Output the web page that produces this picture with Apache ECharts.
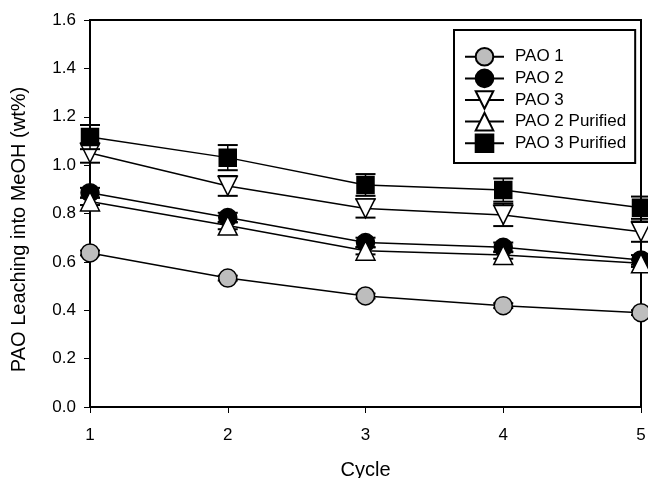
<!DOCTYPE html>
<html>
<head>
<meta charset="utf-8">
<script src="https://cdn.jsdelivr.net/npm/echarts@6/dist/echarts.min.js"></script>
<style>
  html, body { margin: 0; padding: 0; background: #fff; }
  #main { width: 648px; height: 478px; }
</style>
</head>
<body>
<div id="main"></div>
<script>
// cycle numbers (x)
var cycles = [1, 2, 3, 4, 5];
// leaching values, wt%
var pao1 = [0.637, 0.533, 0.459, 0.419, 0.390];
var pao2 = [0.886, 0.783, 0.680, 0.660, 0.608];
var pao3 = [1.050, 0.914, 0.821, 0.794, 0.725];
var pao2Pur = [0.850, 0.750, 0.646, 0.628, 0.594];
var pao3Pur = [1.116, 1.031, 0.918, 0.897, 0.824];
// error bars (+/-)
var pao1Err = [0.01, 0.01, 0.01, 0.01, 0.01];
var pao2Err = [0.02, 0.02, 0.02, 0.02, 0.02];
var pao3Err = [0.040, 0.041, 0.038, 0.046, 0.042];
var pao2PurErr = [0.015, 0.015, 0.015, 0.015, 0.015];
var pao3PurErr = [0.050, 0.052, 0.045, 0.048, 0.046];

var names = ['PAO 1', 'PAO 2', 'PAO 3', 'PAO 2 Purified', 'PAO 3 Purified'];
var values = [pao1, pao2, pao3, pao2Pur, pao3Pur];
var errs = [pao1Err, pao2Err, pao3Err, pao2PurErr, pao3PurErr];
var symbols = ['circle', 'circle', 'triangle', 'triangle', 'rect'];
var rotates = [0, 0, 180, 0, 0];
var fills = ['#bdbdbd', '#000000', '#ffffff', '#ffffff', '#000000'];
var sizes = [18, 18, 19, 19, 17];

var FONT = '"Liberation Sans", Arial, sans-serif';

function pairs(ys) {
  var out = [];
  for (var i = 0; i < cycles.length; i++) out.push([cycles[i], ys[i]]);
  return out;
}
function errData(ys, es) {
  var out = [];
  for (var i = 0; i < cycles.length; i++) out.push([cycles[i], ys[i] - es[i], ys[i] + es[i]]);
  return out;
}

// vertical bar with caps
function errRender(params, api) {
  var x = api.value(0);
  var top = api.coord([x, api.value(2)]);
  var bot = api.coord([x, api.value(1)]);
  var hw = 10;
  var st = { stroke: '#000', lineWidth: 1.5 };
  var cap = { stroke: '#000', lineWidth: 2 };
  return {
    type: 'group',
    children: [
      { type: 'line', shape: { x1: top[0], y1: top[1], x2: bot[0], y2: bot[1] }, style: st },
      { type: 'line', shape: { x1: top[0] - hw, y1: top[1], x2: top[0] + hw, y2: top[1] }, style: cap },
      { type: 'line', shape: { x1: bot[0] - hw, y1: bot[1], x2: bot[0] + hw, y2: bot[1] }, style: cap }
    ]
  };
}

var series = [];
for (var k = 0; k < names.length; k++) {
  series.push({
    name: names[k] + ' err',
    type: 'custom',
    renderItem: errRender,
    data: errData(values[k], errs[k]),
    clip: false,
    silent: true,
    z: 2 + k * 2
  });
  series.push({
    name: names[k],
    type: 'line',
    data: pairs(values[k]),
    symbol: symbols[k],
    symbolSize: sizes[k],
    symbolRotate: rotates[k],
    showAllSymbol: true,
    clip: false,
    lineStyle: { color: '#000', width: 1.5 },
    itemStyle: { color: fills[k], borderColor: '#000', borderWidth: 1.5 },
    z: 3 + k * 2
  });
}

var myChart = echarts.init(document.getElementById('main'));
var option = {
  animation: false,
  backgroundColor: '#fff',
  grid: {
    left: 90, top: 20, right: 7, bottom: 71,
    outerBoundsMode: 'none',
    show: true, borderColor: '#000', borderWidth: 2
  },
  legend: {
    data: names,
    orient: 'vertical',
    left: 454, top: 30,
    padding: [17, 9, 10, 10],
    itemWidth: 39, itemHeight: 22, itemGap: 2,
    backgroundColor: '#fff',
    borderColor: '#000', borderWidth: 2,
    textStyle: { fontFamily: FONT, fontSize: 17, color: '#000', padding: [0, 0, 0, 6] }
  },
  xAxis: {
    type: 'value',
    min: 1, max: 5, interval: 1,
    name: 'Cycle',
    nameLocation: 'middle',
    nameGap: 53,
    nameTextStyle: { fontFamily: FONT, fontSize: 20, color: '#000' },
    axisLine: { show: true, lineStyle: { color: '#000', width: 2 } },
    axisTick: { show: true, length: 6, lineStyle: { color: '#000', width: 1 } },
    axisLabel: { fontFamily: FONT, fontSize: 17, color: '#000', margin: 20 },
    splitLine: { show: false }
  },
  yAxis: {
    type: 'value',
    min: 0, max: 1.6, interval: 0.2,
    name: 'PAO Leaching into MeOH (wt%)',
    nameLocation: 'middle',
    nameGap: 61,
    nameTextStyle: { fontFamily: FONT, fontSize: 20, color: '#000', padding: [0, 32, 0, 0] },
    axisLine: { show: true, lineStyle: { color: '#000', width: 2 } },
    axisTick: { show: true, length: 6, lineStyle: { color: '#000', width: 1 } },
    axisLabel: {
      fontFamily: FONT, fontSize: 17, color: '#000', margin: 14,
      formatter: function (v) { return v.toFixed(1); }
    },
    splitLine: { show: false }
  },
  series: series
};
myChart.setOption(option);
</script>
</body>
</html>
